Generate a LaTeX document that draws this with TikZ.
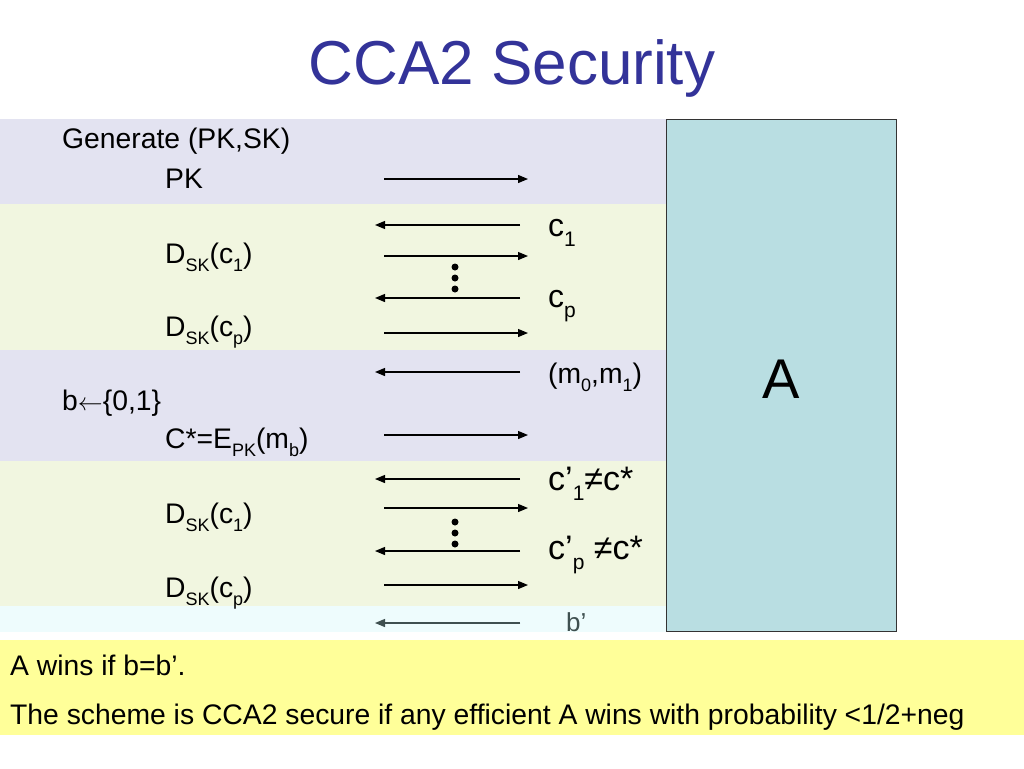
\documentclass[tikz,border=0pt]{standalone}
\usepackage{fontspec}
\setmainfont{Liberation Sans}
\usetikzlibrary{arrows.meta}
\definecolor{titleblue}{HTML}{333399}
\definecolor{lav}{HTML}{E3E3F1}
\definecolor{lgreen}{HTML}{F1F6E0}
\definecolor{lcyan}{HTML}{EEFCFD}
\definecolor{abox}{HTML}{B9DEE2}
\definecolor{yel}{HTML}{FFFF99}
\definecolor{bgray}{HTML}{3F5050}
\newcommand{\sbs}[1]{\raisebox{-0.28em}{\fontsize{18}{18}\selectfont #1}}
\newcommand{\sbl}[1]{\raisebox{-0.3em}{\fontsize{21}{21}\selectfont #1}}
\begin{document}
\begin{tikzpicture}[x=1pt,y=-1pt,
  txt/.style={inner sep=0pt,anchor=west,font=\fontsize{28.3}{32}\selectfont},
  big/.style={inner sep=0pt,anchor=west,font=\fontsize{32}{36}\selectfont},
  msg/.style={line width=1.2pt,-{Triangle[length=10pt,width=8pt]}},
  dot/.style={circle,fill=black,inner sep=0pt,minimum size=7pt}]
\useasboundingbox (0,0) rectangle (1024,768);
\fill[white] (0,0) rectangle (1024,768);
% bands
\fill[lav] (0,119) rectangle (666,204);
\fill[lgreen] (0,204) rectangle (666,350);
\fill[lav] (0,350) rectangle (666,461);
\fill[lgreen] (0,461) rectangle (666,606);
\fill[lcyan] (0,606) rectangle (666,632);
\fill[yel] (0,640) rectangle (1024,735);
% title
\node[inner sep=0pt,text=titleblue,font=\fontsize{62}{68}\selectfont] (title) at (512,68) {CCA2 Security};
% adversary box
\node[draw=black!80,line width=0.8pt,fill=abox,minimum width=230pt,minimum height=512pt,inner sep=0pt,anchor=north west] (A) at (666,119) {};
\node[inner sep=0pt,font=\fontsize{56}{60}\selectfont] (Alab) at (781,379) {A};
% left labels
\node[txt] (gen) at (62,141) {Generate (PK,SK)};
\node[txt] (pk) at (165,179) {PK};
\node[txt] (d1) at (165,257) {D\sbs{SK}(c\sbs{1})};
\node[txt] (dp) at (165,332) {D\sbs{SK}(c\sbs{p})};
\node[txt] (bsel) at (62,403) {b$\leftarrow$\{0,1\}};
\node[txt] (cstar) at (165,442) {C*=E\sbs{PK}(m\sbs{b})};
\node[txt] (d1b) at (165,517) {D\sbs{SK}(c\sbs{1})};
\node[txt] (dpb) at (165,593) {D\sbs{SK}(c\sbs{p})};
% right labels
\node[big] (c1) at (548,233) {c\sbl{1}};
\node[big] (cp) at (548,306) {c\sbl{p}};
\node[txt] (m01) at (548,377) {(m\sbs{0},m\sbs{1})};
\node[big,font=\fontsize{34}{38}\selectfont] (c1s) at (548,484) {c’\sbl{1}≠c*};
\node[big,font=\fontsize{34}{38}\selectfont] (cps) at (548,555) {c’\sbl{p} ≠c*};
\node[txt,text=bgray,font=\fontsize{26}{30}\selectfont] (bp) at (566,622) {b’};
% arrow endpoints
\foreach \n/\y in {a1/179,a3/256,a5/333,a7/435,a9/508,a11/585}{
  \coordinate (\n s) at (384,\y); \coordinate (\n e) at (528,\y);}
\foreach \n/\y in {a2/225,a4/298,a6/372,a8/479,a10/551}{
  \coordinate (\n s) at (520,\y); \coordinate (\n e) at (375,\y);}
\coordinate (a12s) at (520,623); \coordinate (a12e) at (375,623);
\foreach \n in {a1,a2,a3,a4,a5,a6,a7,a8,a9,a10,a11}{\draw[msg] (\n s) -- (\n e);}
\draw[msg,draw=bgray,fill=bgray] (a12s) -- (a12e);
% dots
\node[dot] (v1) at (455,267) {};
\node[dot] (v2) at (455,278) {};
\node[dot] (v3) at (455,289) {};
\node[dot] (w1) at (455,522) {};
\node[dot] (w2) at (455,533) {};
\node[dot] (w3) at (455,544) {};
% bottom text
\node[txt] (win) at (10,665) {A wins if b=b’.};
\node[txt] (def) at (10,717) {The scheme is CCA2 secure if any efficient A wins with probability <1/2+neg};
\end{tikzpicture}
\end{document}
